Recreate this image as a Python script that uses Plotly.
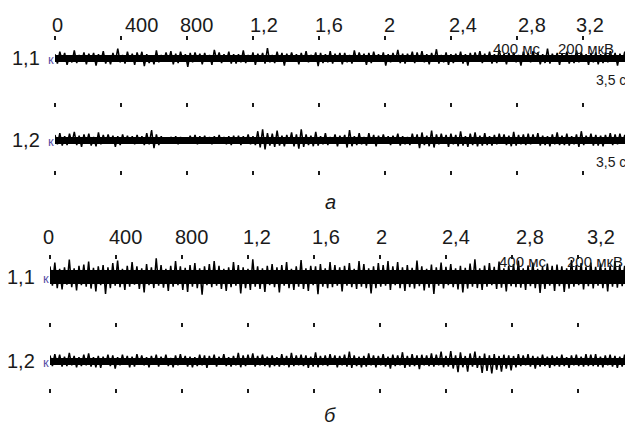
import numpy as np
import plotly.graph_objects as go

# ---------------- data ----------------
duration_ms = 3500
tick_vals_ms = [0, 400, 800, 1200, 1600, 2000, 2400, 2800, 3200]
tick_text = ["0", "400", "800", "1,2", "1,6", "2", "2,4", "2,8", "3,2"]
channel_labels = ["1,1", "1,2"]
panel_labels = ["а", "б"]
scale_time_label = "400 мс"
scale_amp_label = "200 мкВ"
end_label = "3,5 с"

# EMG samples, µV (estimated)
a_11 = [30,-45,50,-25,40,-55,20,-35,60,-40,25,-30,45,-50,35,
        -20,40,-60,30,-25,55,-45,20,-50,40,-30,75,-35,25,-45,
        50,-30,35,-55,45,-20,50,-65,30,-40,20,-50,60,-35,25,
        -30,45,-25,55,-50,35,-40,50,-25,30,-70,40,-35,45,-20,
        35,-50,40,-30,25,-55,65,-20,45,-40,30,-25,50,-45,30,
        -45,30,-35,60,-40,25,-30,45,-55,35,-20,40,-45,80,-35,
        25,-40,50,-30,40,-60,35,-25,45,-20,30,-50,40,-30,55,
        -35,25,-20,45,-65,40,-40,30,-35,55,-45,35,-25,40,-50,
        40,-35,25,-45,60,-30,45,-20,35,-55,40,-40,50,-25,30,
        -30,45,-60,30,-35,40,-25,65,-40,35,-45,35,-20,50,-40,
        45,-25,55,-35,30,-50,40,-30,70,-45,25,-35,45,-55,30,
        -40,35,-25,50,-45,30,-60,40,-30,45,-20,55,-40,35,-30,
        50,-45,30,-40,65,-25,35,-50,40,-30,45,-35,25,-60,50,
        -25,40,-35,55,-30,45,-50,30,-40,75,-45,35,-30,40,-55,
        35,-30,50,-45,25,-40,60,-35,45,-25,30,-55,40,-35,45,
        -50,30,-40,45,-35,55,-25,40,-60,35,-30,50,-45,30,-40]
a_12 = [40,-35,55,-45,30,-40,50,-25,65,-40,35,-55,45,-30,50,
        -45,25,-50,60,-35,40,-30,45,-20,35,-55,30,-40,45,-25,
        35,-25,30,-35,40,-25,30,-40,55,-35,80,-65,45,-40,30,
        -25,20,-30,25,-20,30,-35,25,-30,20,-25,35,-30,40,-35,
        30,-25,35,-30,25,-35,30,-25,40,-30,25,-35,30,-40,35,
        -30,35,-40,30,-25,45,-35,30,-40,70,-60,85,-75,55,-45,
        50,-55,75,-45,35,-50,40,-30,60,-50,45,-70,85,-55,45,
        -40,35,-50,65,-45,30,-35,55,-40,25,-30,45,-50,35,-25,
        40,-60,80,-50,30,-40,55,-35,25,-45,55,-30,40,-50,35,
        -30,45,-25,30,-40,35,-20,50,-45,30,-35,25,-40,50,-30,
        45,-65,60,-40,35,-50,75,-60,45,-35,50,-30,40,-55,50,
        -35,40,-50,70,-45,30,-55,50,-40,60,-50,35,-45,55,-40,
        30,-45,40,-35,50,-30,45,-40,35,-50,65,-45,40,-35,45,
        -40,50,-35,45,-30,55,-45,35,-40,30,-50,45,-35,60,-40,
        35,-40,50,-45,30,-35,45,-55,70,-40,35,-30,50,-45,40,
        -45,35,-50,40,-30,55,-40,45,-35,50,-30,40,-45,35,-40]
b_11 = [110,-90,150,-115,85,-130,100,-80,180,-105,90,-140,115,-85,130,
        -100,160,-120,95,-150,110,-85,125,-175,100,-115,145,-90,170,-105,
        85,-135,115,-100,155,-80,110,-125,90,-160,135,-85,100,-115,195,
        -90,125,-110,85,-145,115,-100,165,-85,110,-135,95,-155,125,-100,
        145,-115,90,-185,110,-85,135,-105,165,-90,115,-125,85,-145,100,
        -105,155,-90,125,-170,100,-115,85,-135,185,-100,110,-125,90,-155,
        115,-85,135,-105,100,-160,125,-90,155,-115,85,-135,110,-100,175,
        -125,90,-145,115,-85,110,-180,135,-100,90,-115,155,-105,125,-90,
        100,-150,115,-90,145,-105,85,-125,165,-100,135,-115,90,-170,110,
        -115,145,-100,125,-90,165,-135,110,-85,155,-115,100,-145,125,-105,
        95,-120,170,-95,110,-140,85,-110,130,-175,100,-90,150,-120,105,
        -85,135,-105,90,-130,115,-160,95,-120,140,-100,185,-115,90,-135,
        120,-100,145,-85,105,-125,160,-110,90,-150,115,-95,135,-105,170,
        -110,90,-135,120,-95,150,-115,85,-165,105,-125,140,-90,115,-145,
        130,-95,110,-155,90,-120,175,-100,125,-85,145,-130,105,-95,150,
        -120,105,-90,140,-115,95,-150,120,-100,165,-110,130,-95,115,-125]
b_12 = [45,-40,55,-30,50,-45,35,-40,65,-35,40,-50,30,-40,50,
        -35,60,-45,30,-50,40,-55,35,-30,50,-40,45,-60,30,-35,
        50,-30,40,-50,35,-45,55,-25,45,-35,30,-50,40,-30,50,
        -45,35,-30,50,-40,25,-50,45,-35,55,-30,40,-45,35,-50,
        30,-40,50,-35,45,-55,40,-30,50,-45,35,-25,55,-40,30,
        -45,40,-35,65,-50,45,-40,50,-30,60,-45,40,-35,50,-40,
        35,-50,45,-40,30,-45,55,-35,40,-50,65,-40,45,-35,50,
        -40,45,-55,35,-45,70,-50,40,-35,45,-40,55,-30,45,-50,
        40,-35,50,-45,75,-55,45,-40,35,-50,40,-45,60,-35,45,
        -50,40,-35,55,-45,35,-60,50,-40,45,-35,70,-55,40,-45,
        55,-40,45,-65,50,-35,45,-40,60,-45,50,-35,75,-50,40,
        -45,80,-60,45,-90,70,-50,40,-85,60,-45,75,-55,40,-95,
        60,-80,45,-100,55,-70,40,-85,50,-60,45,-75,40,-50,55,
        -40,45,-35,55,-45,40,-60,35,-45,50,-40,35,-55,45,-40,
        35,-45,50,-40,30,-55,45,-35,50,-40,35,-45,55,-40,50,
        -40,55,-45,35,-50,45,-35,50,-45,40,-55,35,-45,50,-55]

# ---------------- layout helpers ----------------
# The page shows the figure with an 8 px body margin; reference pixel p maps to figure pixel p - 8.
OFF = 8
W, H = 633 - OFF, 428 - OFF
def px_x(p):
    return (p - OFF) / W
def px_y(p):
    return 1 - (p - OFF) / H

FONT = "Liberation Sans, Arial, sans-serif"
INK = "#1a1a1a"

panels = [
    dict(x0=55, x1=632, rows=[40, 107, 175], ch=[58, 140], widths=[7, 7], yr=[200, 200],
         label_y=202, tick_label_y=25, shifts=[2, 21, 10, 11, 10, 5, 12, 15, 7],
         data=[a_11, a_12], unit_y=48, unit_x=(517, 586), end_y=[80, 162]),
    dict(x0=50, x1=627, rows=[259, 327, 393], ch=[277, 361], widths=[14, 7], yr=[260, 200],
         label_y=415, tick_label_y=237, shifts=[-2, 10, 10, 9, 12, 2, 10, 18, 23],
         data=[b_11, b_12], unit_y=262, unit_x=(523, 595), end_y=[]),
]

fig = go.Figure()
layout = dict(width=W, height=H, margin=dict(l=0, r=0, t=0, b=0),
              paper_bgcolor="white", plot_bgcolor="white", showlegend=False,
              font=dict(family=FONT, color=INK))
annotations = []

yidx = 1
for p_i, P in enumerate(panels):
    base = "x" if p_i == 0 else "x2"
    dom = [px_x(P["x0"]), px_x(P["x1"])]
    row_axes = [base] + (["x3", "x4"] if p_i == 0 else ["x5", "x6"])
    for r_i, (ax, row_px) in enumerate(zip(row_axes, P["rows"])):
        name = "xaxis" if ax == "x" else "xaxis" + ax[1:]
        cfg = dict(domain=dom, range=[0, duration_ms], anchor="free",
                   position=px_y(row_px), side="top",
                   showgrid=False, zeroline=False, showline=False,
                   ticks="outside", ticklen=4, tickwidth=2, tickcolor=INK,
                   tickvals=tick_vals_ms, showticklabels=False)
        if ax != base:
            cfg["overlaying"] = base
        layout[name] = cfg
    # time-scale labels above the first row of ticks
    for tv, tt, sh in zip(tick_vals_ms, tick_text, P["shifts"]):
        annotations.append(dict(xref=base, yref="paper", x=tv, y=px_y(P["tick_label_y"]),
                                xshift=sh, text=tt, showarrow=False, xanchor="center",
                                yanchor="middle", font=dict(family=FONT, size=20, color=INK)))
    first_y = None
    for c_i, (sig, cy, zw, yr) in enumerate(zip(P["data"], P["ch"], P["widths"], P["yr"])):
        yname = "yaxis" if yidx == 1 else f"yaxis{yidx}"
        yref = "y" if yidx == 1 else f"y{yidx}"
        first_y = first_y or yref
        layout[yname] = dict(domain=[px_y(cy + 25), px_y(cy - 25)], range=[-yr, yr],
                             anchor=base, showticklabels=False,
                             showgrid=False, showline=False, ticks="",
                             zeroline=True, zerolinecolor="#000", zerolinewidth=zw)
        t = np.linspace(0, duration_ms, len(sig))
        fig.add_trace(go.Scatter(x=t, y=sig, mode="lines", xaxis=base, yaxis=yref,
                                 line=dict(color="#000", width=1.5), hoverinfo="skip"))
        annotations.append(dict(xref="paper", yref="paper", x=px_x(P["x0"] - 13), y=px_y(cy),
                                text=channel_labels[c_i], showarrow=False, xanchor="right",
                                yanchor="middle", font=dict(family=FONT, size=20, color=INK)))
        annotations.append(dict(xref="paper", yref="paper", x=px_x(P["x0"] + 1), y=px_y(cy + 1),
                                text="к", showarrow=False, xanchor="right", yanchor="middle",
                                font=dict(family=FONT, size=13, color="#5a4fa8")))
        yidx += 1
    for ax in row_axes[1:]:
        fig.add_trace(go.Scatter(x=[0, duration_ms], y=[None, None], xaxis=ax,
                                 yaxis=first_y, hoverinfo="skip"))
    annotations.append(dict(xref="paper", yref="paper", x=px_x(P["unit_x"][0]), y=px_y(P["unit_y"]),
                            text=scale_time_label, showarrow=False, xanchor="center", yanchor="middle",
                            font=dict(family=FONT, size=15, color=INK)))
    annotations.append(dict(xref="paper", yref="paper", x=px_x(P["unit_x"][1]), y=px_y(P["unit_y"]),
                            text=scale_amp_label, showarrow=False, xanchor="center", yanchor="middle",
                            font=dict(family=FONT, size=15, color=INK)))
    for ey in P["end_y"]:
        annotations.append(dict(xref="paper", yref="paper", x=px_x(628), y=px_y(ey),
                                text=end_label, showarrow=False, xanchor="right", yanchor="middle",
                                font=dict(family=FONT, size=14, color=INK)))
    annotations.append(dict(xref="paper", yref="paper", x=px_x(330), y=px_y(P["label_y"]),
                            text="<i>" + panel_labels[p_i] + "</i>", showarrow=False,
                            xanchor="center", yanchor="middle",
                            font=dict(family=FONT, size=20, color=INK)))

layout["annotations"] = annotations
fig.update_layout(**layout)
fig.write_html("out.html")
